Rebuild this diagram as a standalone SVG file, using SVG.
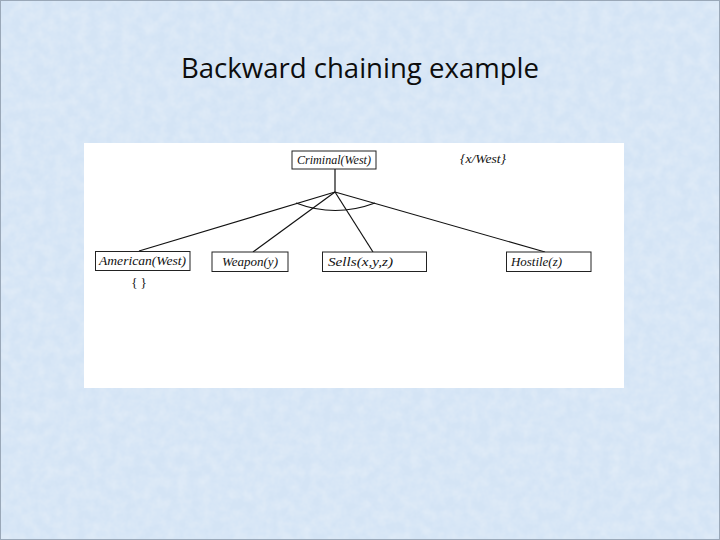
<svg xmlns="http://www.w3.org/2000/svg" width="720" height="540" viewBox="0 0 720 540">
  <defs>
    <filter id="tex" x="0" y="0" width="100%" height="100%">
      <feTurbulence type="fractalNoise" baseFrequency="0.09" numOctaves="3" seed="4" result="n"/>
      <feColorMatrix in="n" type="matrix" values="0 0 0 0 1  0 0 0 0 1  0 0 0 0 1  0 0 0 0.4 -0.12" result="w"/>
      <feComposite in="w" in2="SourceGraphic" operator="atop"/>
    </filter>
  </defs>
  <style>
    .box { fill: #ffffff; stroke: #222222; stroke-width: 1; }
    .lbl { font-family: "Liberation Serif", "DejaVu Serif", serif; font-style: italic; font-size: 13px; fill: #111111; }
    .edge { stroke: #111111; stroke-width: 1.2; fill: none; }
    .title { font-family: "Open Sans", "Liberation Sans", sans-serif; font-size: 27px; fill: #0d0d0d; }
  </style>
  <rect x="0" y="0" width="720" height="540" fill="#d4e4f5" filter="url(#tex)"/>
  <rect x="0.5" y="0.5" width="719" height="539" fill="none" stroke="#9aa8b8" stroke-width="1"/>
  <text class="title" x="360" y="78" text-anchor="middle" textLength="358" lengthAdjust="spacingAndGlyphs">Backward chaining example</text>
  <rect x="84" y="143" width="540" height="245" fill="#ffffff"/>

  <g id="connectors">
    <line class="edge" x1="335" y1="169" x2="335" y2="192"/>
    <line class="edge" x1="335" y1="192" x2="139" y2="251"/>
    <line class="edge" x1="335" y1="192" x2="253" y2="252"/>
    <line class="edge" x1="335" y1="192" x2="373" y2="252"/>
    <line class="edge" x1="335" y1="192" x2="545" y2="252"/>
    <path class="edge" d="M296,203 Q335,218 375,203"/>
  </g>

  <g id="criminal">
    <rect class="box" x="292" y="151" width="84" height="18"/>
    <text class="lbl" x="334" y="164" text-anchor="middle" textLength="74" lengthAdjust="spacingAndGlyphs">Criminal(West)</text>
  </g>
  <g id="subst-west">
    <text class="lbl" x="483" y="163" text-anchor="middle" textLength="46" lengthAdjust="spacingAndGlyphs">{x/West}</text>
  </g>
  <g id="american">
    <rect class="box" x="95.5" y="251.5" width="94.5" height="19"/>
    <text class="lbl" x="142.5" y="265" text-anchor="middle" textLength="87" lengthAdjust="spacingAndGlyphs">American(West)</text>
  </g>
  <g id="subst-empty">
    <text x="139" y="287" text-anchor="middle" font-family="Liberation Serif, serif" font-size="13" fill="#111111">{ }</text>
  </g>
  <g id="weapon">
    <rect class="box" x="212" y="252" width="76" height="19.5"/>
    <text class="lbl" x="250" y="266" text-anchor="middle" textLength="56" lengthAdjust="spacingAndGlyphs">Weapon(y)</text>
  </g>
  <g id="sells">
    <rect class="box" x="322.5" y="252" width="104" height="19.5"/>
    <text class="lbl" x="328" y="266" textLength="65" lengthAdjust="spacingAndGlyphs">Sells(x,y,z)</text>
  </g>
  <g id="hostile">
    <rect class="box" x="506.5" y="252" width="84.5" height="19.5"/>
    <text class="lbl" x="511" y="266" textLength="51" lengthAdjust="spacingAndGlyphs">Hostile(z)</text>
  </g>
</svg>
